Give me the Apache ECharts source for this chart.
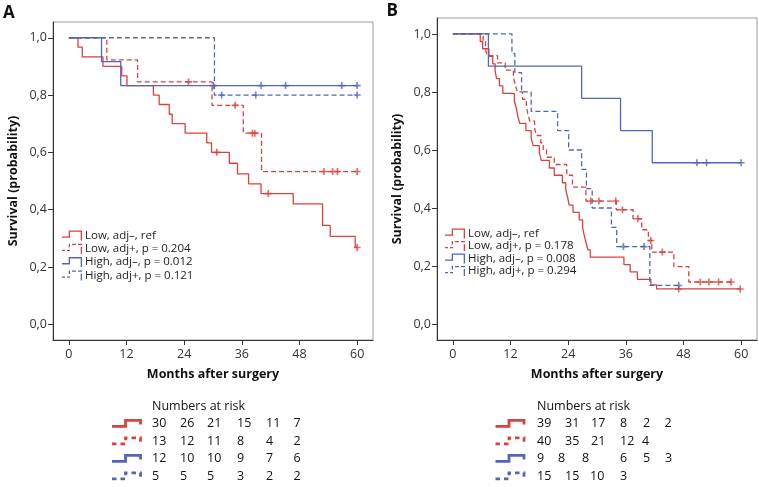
<!DOCTYPE html>
<html><head><meta charset="utf-8">
<script src="https://cdn.jsdelivr.net/npm/echarts@6/dist/echarts.min.js"></script>
<style>html,body{margin:0;padding:0;background:#fff}#c{width:759px;height:487px}</style>
</head><body><div id="c"></div>
<script>
// ---------- data ----------
const xTicks = [0, 12, 24, 36, 48, 60];
const yTicks = [0, 0.2, 0.4, 0.6, 0.8, 1.0];

const namesA = ['Low, adj\u2013, ref', 'Low, adj+, p = 0.204', 'High, adj\u2013, p = 0.012', 'High, adj+, p = 0.121'];
const namesB = ['Low, adj\u2013, ref', 'Low, adj+, p = 0.178', 'High, adj\u2013, p = 0.008', 'High, adj+, p = 0.294'];

// Panel A
const aLowNegT = [0, 1.9, 2.8, 7.1, 11.0, 12.1, 17.6, 18.8, 20.9, 21.5, 24.2, 28.7, 29.7, 33.4, 35.1, 37.4, 40.0, 46.7, 52.8, 54.4, 59.6];
const aLowNegS = [1, 0.967, 0.933, 0.9, 0.867, 0.833, 0.8, 0.767, 0.733, 0.7, 0.667, 0.633, 0.6, 0.562, 0.525, 0.49, 0.456, 0.42, 0.345, 0.307, 0.268];
const aLowNegC = [30.8, 41.5, 60];
const aLowPosT = [0, 7.9, 14.3, 29.8, 36.3, 40.1];
const aLowPosS = [1, 0.923, 0.846, 0.764, 0.667, 0.533];
const aLowPosC = [24.9, 34.6, 38.2, 38.7, 53.1, 54.9, 55.9, 60];
const aHighNegT = [0, 6.8, 10.8];
const aHighNegS = [1, 0.917, 0.833];
const aHighNegC = [30.1, 40, 45.1, 56.8, 60];
const aHighPosT = [0, 30.3];
const aHighPosS = [1, 0.8];
const aHighPosC = [31.8, 38.9, 60];

// Panel B
const bLowNegT = [0, 5.7, 6.2, 7.5, 8.3, 8.8, 9.1, 9.7, 10.4, 12.8, 13.2, 13.5, 13.9, 15.2, 16.3, 16.7, 18.0, 18.4, 20.1, 21.1, 22.8, 23.5, 23.9, 24.2, 25.0, 26.3, 27.0, 27.3, 27.7, 28.1, 28.6, 35.6, 36.9, 38.4, 41.2, 42.4];
const bLowNegS = [1, 0.974, 0.949, 0.923, 0.897, 0.872, 0.846, 0.821, 0.795, 0.769, 0.744, 0.718, 0.692, 0.667, 0.641, 0.615, 0.590, 0.564, 0.538, 0.513, 0.487, 0.462, 0.436, 0.410, 0.385, 0.359, 0.333, 0.308, 0.282, 0.256, 0.231, 0.205, 0.180, 0.154, 0.135, 0.121];
const bLowNegC = [47.0, 59.8];
const bLowPosT = [0, 6.3, 6.8, 7.1, 9.3, 10.9, 12.6, 13.0, 13.4, 14.5, 15.3, 15.6, 16.0, 17.0, 17.4, 18.3, 18.8, 19.5, 21.1, 23.7, 24.9, 27.7, 34.0, 37.5, 39.3, 40.7, 41.4, 46.0, 49.1];
const bLowPosS = [1, 0.975, 0.95, 0.925, 0.9, 0.875, 0.85, 0.825, 0.8, 0.775, 0.75, 0.725, 0.7, 0.675, 0.65, 0.625, 0.6, 0.575, 0.55, 0.513, 0.472, 0.424, 0.394, 0.363, 0.325, 0.288, 0.248, 0.198, 0.145];
const bLowPosC = [28.7, 30.4, 33.9, 35.3, 38.5, 41.2, 43.6, 51.5, 53.3, 55.3, 57.9];
const bHighNegT = [0, 7.4, 26.8, 34.9, 41.5];
const bHighNegS = [1, 0.889, 0.778, 0.667, 0.556];
const bHighNegC = [50.8, 52.8, 60];
const bHighPosT = [0, 12.3, 12.9, 14.3, 16.3, 21.8, 24.1, 26.8, 27.8, 29.0, 33.0, 34.1, 41.0];
const bHighPosS = [1, 0.933, 0.867, 0.8, 0.733, 0.667, 0.6, 0.533, 0.467, 0.4, 0.333, 0.267, 0.133];
const bHighPosC = [35.5, 39.8, 47.0];

// Numbers at risk
const riskA = [[30, 26, 21, 15, 11, 7], [13, 12, 11, 8, 4, 2], [12, 10, 10, 9, 7, 6], [5, 5, 5, 3, 2, 2]];
const riskB = [[39, 31, 17, 8, 2, 2], [40, 35, 21, 12, 4], [9, 8, 8, 6, 5, 3], [15, 15, 10, 3]];
const riskTitle = 'Numbers at risk';

// ---------- styling / layout ----------
const FONT = '"Open Sans", sans-serif';
const RED = '#d9423e', BLUE = '#5166b8';
const colors = [RED, RED, BLUE, BLUE];
const dashedFlags = [false, true, false, true];
const cross = 'path://M2.3 0H3.7V6H2.3Z M0 2.3H6V3.7H0Z';
const solidIcon = 'path://M0 6H8V7.3H0Z M6.7 0H8V7.3H6.7Z M6.7 0H20V1.3H6.7Z M18.7 0H20V10H18.7Z';
const dashIcon = 'path://M0 6H3V7.3H0Z M5 6H8V7.3H5Z M6.7 0H8V3.5H6.7Z M10 0H14V1.3H10Z M16 0H20V1.3H16Z M18.7 3H20V10H18.7Z';

function kmData(t, s, c) {
  const end = Math.max(t[t.length - 1], ...c);
  const d = t.map((x, i) => [x, s[i]]);
  d.push([end, s[s.length - 1]]);
  return d;
}
function survAt(t, s, x) {
  let v = s[0];
  for (let i = 0; i < t.length; i++) if (t[i] <= x) v = s[i];
  return v;
}
function kmSeries(name, gi, t, s, c, color, dashed) {
  return [{
    type: 'line', name: name, xAxisIndex: gi, yAxisIndex: gi, step: 'end',
    data: kmData(t, s, c), symbol: 'none', showSymbol: false, color: color,
    lineStyle: { color: color, width: 1.3, type: dashed ? [5, 3] : 'solid' },
    itemStyle: { color: color }, silent: true, z: 2
  }, {
    type: 'scatter', name: name + ' censored ' + gi, xAxisIndex: gi, yAxisIndex: gi,
    data: c.map(x => [x, survAt(t, s, x)]), symbol: cross, symbolSize: 7,
    itemStyle: { color: color }, silent: true, z: 3
  }];
}
function xAxis(gi) {
  return {
    type: 'value', gridIndex: gi, min: -3.3, max: 63.3,
    name: 'Months after surgery', nameLocation: 'middle', nameGap: 28,
    nameTextStyle: { fontWeight: 'bold', fontSize: 12.5, color: '#111', fontFamily: FONT },
    axisLine: { show: true, onZero: false, lineStyle: { color: '#333', width: 1 } },
    axisTick: { show: true, length: 5, customValues: xTicks, lineStyle: { color: '#333' } },
    axisLabel: { customValues: xTicks, margin: 8, fontSize: 12.5, color: '#333', fontFamily: FONT },
    splitLine: { show: false }
  };
}
function yAxis(gi) {
  return {
    type: 'value', gridIndex: gi, min: -0.055, max: 1.055,
    name: 'Survival (probability)', nameLocation: 'middle', nameGap: 33,
    nameTextStyle: { fontWeight: 'bold', fontSize: 12.5, color: '#111', fontFamily: FONT },
    axisLine: { show: true, onZero: false, lineStyle: { color: '#333', width: 1 } },
    axisTick: { show: true, length: 5, customValues: yTicks, lineStyle: { color: '#333' } },
    axisLabel: { customValues: yTicks, margin: 6, fontSize: 12.5, color: '#333', fontFamily: FONT,
      formatter: v => v.toFixed(1).replace('.', ',') },
    splitLine: { show: false }
  };
}
function legendFor(names, left, top, gap) {
  return {
    orient: 'vertical', left: left, top: top, itemWidth: 20, itemHeight: 10, itemGap: gap, padding: 0,
    selectedMode: false, itemStyle: { borderWidth: 0 },
    textStyle: { fontSize: 11.5, color: '#222', fontFamily: FONT, padding: [0, 0, 0, -2] },
    data: names.map((n, i) => ({ name: n, icon: dashedFlags[i] ? dashIcon : solidIcon }))
  };
}

const setA = [[aLowNegT, aLowNegS, aLowNegC], [aLowPosT, aLowPosS, aLowPosC], [aHighNegT, aHighNegS, aHighNegC], [aHighPosT, aHighPosS, aHighPosC]];
const setB = [[bLowNegT, bLowNegS, bLowNegC], [bLowPosT, bLowPosS, bLowPosC], [bHighNegT, bHighNegS, bHighNegC], [bHighPosT, bHighPosS, bHighPosC]];
let series = [];
setA.forEach((d, i) => { series = series.concat(kmSeries(namesA[i], 0, d[0], d[1], d[2], colors[i], dashedFlags[i])); });
setB.forEach((d, i) => { series = series.concat(kmSeries(namesB[i], 1, d[0], d[1], d[2], colors[i], dashedFlags[i])); });

// graphic: panel letters + numbers at risk tables
const rowY = [423.5, 441, 458.5, 476];
const colsA = [152, 180, 207, 237, 266, 293.5];
const colsB = [[537, 565, 591, 620, 643, 664.5], [537, 565, 591, 620, 642], [537, 558, 582, 620, 643, 665], [537, 565, 590, 620]];
const graphics = [];
function txt(text, x, y, size, weight) {
  graphics.push({ type: 'text', x: x, y: y, silent: true,
    style: { text: text, fill: '#111', fontSize: size, fontFamily: FONT, fontWeight: weight || 'normal', verticalAlign: 'middle', align: 'left' } });
}
function icon(x0, y, color, dashed) {
  graphics.push({ type: 'polyline', silent: true,
    shape: { points: [[x0, y + 2.8], [x0 + 13.5, y + 2.8], [x0 + 13.5, y - 3.2], [x0 + 28.5, y - 3.2], [x0 + 28.5, y + 1]] },
    style: { stroke: color, lineWidth: 2.8, fill: null, lineDash: dashed ? [4.5, 4] : null } });
}
txt('A', 3, 13.5, 17, 'bold');
txt('B', 386.5, 11.5, 17, 'bold');
txt(riskTitle, 152, 406.5, 12.5);
txt(riskTitle, 537, 406.5, 12.5);
riskA.forEach((row, r) => {
  icon(112, rowY[r], colors[r], dashedFlags[r]);
  row.forEach((v, k) => txt(String(v), colsA[k], rowY[r], 12.5));
});
riskB.forEach((row, r) => {
  icon(495.5, rowY[r], colors[r], dashedFlags[r]);
  row.forEach((v, k) => txt(String(v), colsB[r][k], rowY[r], 12.5));
});

const option = {
  animation: false,
  backgroundColor: '#fff',
  textStyle: { fontFamily: FONT },
  grid: [
    { left: 53, top: 22, width: 320, height: 318, show: true, borderColor: '#9a9a9a', borderWidth: 1, containLabel: false },
    { left: 437, top: 18, width: 320, height: 322, show: true, borderColor: '#9a9a9a', borderWidth: 1, containLabel: false }
  ],
  xAxis: [xAxis(0), xAxis(1)],
  yAxis: [yAxis(0), yAxis(1)],
  legend: [legendFor(namesA, 62, 229.5, 1.3), legendFor(namesB, 445, 227.5, 0.5)],
  series: series,
  graphic: graphics
};
const chart = echarts.init(document.getElementById('c'), null, { renderer: 'canvas' });
chart.setOption(option);
</script></body></html>
